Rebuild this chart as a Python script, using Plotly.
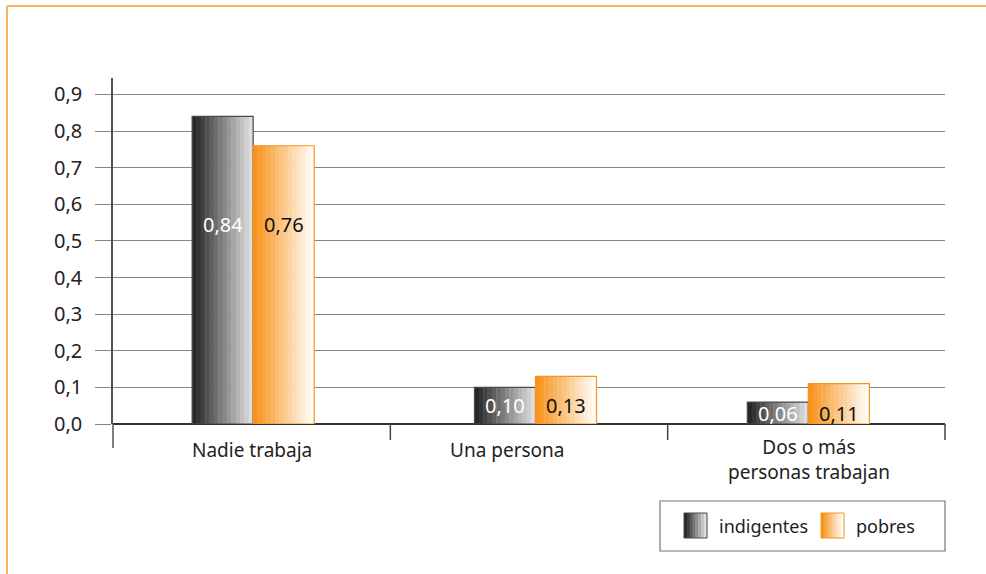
import plotly.graph_objects as go

# ---------------- data ----------------
categories = ["Nadie trabaja", "Una persona", "Dos o más<br>personas trabajan"]
indigentes = [0.84, 0.10, 0.06]
pobres = [0.76, 0.13, 0.11]
series_names = ["indigentes", "pobres"]
y_ticks = [0.0, 0.1, 0.2, 0.3, 0.4, 0.5, 0.6, 0.7, 0.8, 0.9]

# ---------------- style ----------------
W, H = 986, 574
L, R, T, B = 113, 41, 78, 150
PW, PH = W - L - R, H - T - B
CAT_PX = PW / 3
FONT = "Noto Sans"
TXT = "#222222"
GRID = "#858585"
ORANGE = "#f7941d"
FRAME = "#fab364"
BAR_W = 0.22
BAR_NUDGE_PX = [1.5, 6.5, 2.0]      # small per-group horizontal nudges (pixels)
LABEL_NUDGE_PX = [0, -22, 3]        # category label nudges (pixels)
NSTRIP = 14


def px_x(p):
    return (p - L) / PW


def px_y(p):
    return (H - B - p) / PH


def lerp(c1, c2, t):
    return "rgb(%d,%d,%d)" % tuple(round(a + (b - a) * t) for a, b in zip(c1, c2))


grad = {
    "indigentes": ((38, 38, 38), (222, 222, 224)),
    "pobres": ((247, 148, 29), (255, 252, 246)),
}
outline = {"indigentes": "#4a4a4a", "pobres": ORANGE}
label_col = {"indigentes": "#ffffff", "pobres": "#111111"}

nudge = [p / CAT_PX for p in BAR_NUDGE_PX]

fig = go.Figure()
step = BAR_W / NSTRIP
for si, (name, vals) in enumerate(zip(series_names, [indigentes, pobres])):
    base = [-BAR_W + si * BAR_W + n for n in nudge]
    c1, c2 = grad[name]
    for k in range(NSTRIP):
        t = k / (NSTRIP - 1)
        fig.add_trace(go.Bar(
            x=categories, y=vals, width=step * 1.08, offset=[b + k * step for b in base],
            marker=dict(color=lerp(c1, c2, t), line=dict(width=0)),
            showlegend=False, hoverinfo="skip"))
    fig.add_trace(go.Bar(
        x=categories, y=vals, width=BAR_W, offset=base, name=name,
        marker=dict(color="rgba(0,0,0,0)", line=dict(color=outline[name], width=1.2)),
        showlegend=False))

# value labels
for ci, cat in enumerate(categories):
    level = 0.545 if max(indigentes[ci], pobres[ci]) > 0.5 else indigentes[ci] / 2
    for si, (name, vals) in enumerate(zip(series_names, [indigentes, pobres])):
        fig.add_annotation(
            x=ci, y=level, xref="x", yref="y",
            text=("%.2f" % vals[ci]).replace(".", ","),
            xshift=(-BAR_W / 2 + si * BAR_W + nudge[ci]) * CAT_PX,
            showarrow=False, font=dict(family=FONT, size=20, color=label_col[name]))

# category labels
for ci, cat in enumerate(categories):
    nlines = cat.count("<br>") + 1
    fig.add_annotation(
        x=ci, y=px_y(450 + (nlines - 1) * 9), xref="x", yref="paper", yanchor="middle",
        xshift=LABEL_NUDGE_PX[ci],
        text=cat, showarrow=False,
        font=dict(family=FONT, size=19, color=TXT))

shapes = []
# orange frame
shapes.append(dict(type="line", xref="paper", yref="paper",
                   x0=px_x(7), x1=px_x(986), y0=px_y(6), y1=px_y(6),
                   line=dict(color=FRAME, width=2)))
shapes.append(dict(type="line", xref="paper", yref="paper",
                   x0=px_x(7), x1=px_x(7), y0=px_y(6), y1=px_y(574),
                   line=dict(color=FRAME, width=2)))
# y axis extension below zero
shapes.append(dict(type="line", xref="paper", yref="paper",
                   x0=0, x1=0, y0=0, y1=px_y(448),
                   line=dict(color="#555555", width=1.5)))
# category separators
for k in range(1, len(categories) + 1):
    shapes.append(dict(type="line", xref="paper", yref="paper",
                       x0=k / len(categories), x1=k / len(categories),
                       y0=0, y1=px_y(440),
                       line=dict(color="#444444", width=1.5)))
# legend box
shapes.append(dict(type="rect", xref="paper", yref="paper",
                   x0=px_x(660), x1=px_x(945), y0=px_y(551), y1=px_y(501),
                   line=dict(color="#777777", width=1.2), fillcolor="white"))
leg_pos = {"indigentes": (684, 717), "pobres": (821, 854)}
for name in series_names:
    sx, tx = leg_pos[name]
    c1, c2 = grad[name]
    n = 8
    sw = 23 / n
    for k in range(n):
        shapes.append(dict(type="rect", xref="paper", yref="paper",
                           x0=px_x(sx + k * sw), x1=px_x(sx + (k + 1) * sw + 0.3),
                           y0=px_y(538), y1=px_y(513),
                           line=dict(width=0), fillcolor=lerp(c1, c2, k / (n - 1))))
    shapes.append(dict(type="rect", xref="paper", yref="paper",
                       x0=px_x(sx), x1=px_x(sx + 23), y0=px_y(538), y1=px_y(513),
                       line=dict(color=outline[name], width=1)))
    fig.add_annotation(x=px_x(tx), y=px_y(526), xref="paper", yref="paper",
                       xanchor="left", yanchor="middle", text=name, showarrow=False,
                       font=dict(family=FONT, size=18, color=TXT))

fig.update_layout(
    width=W, height=H,
    margin=dict(l=L, r=R, t=T, b=B, autoexpand=False),
    paper_bgcolor="white", plot_bgcolor="white",
    separators=",.",
    barmode="overlay",
    shapes=shapes,
    showlegend=False,
    font=dict(family=FONT, size=19, color=TXT),
    xaxis=dict(type="category", range=[-0.5, 2.5], showticklabels=False,
               showgrid=False, zeroline=False, showline=False, ticks=""),
    yaxis=dict(range=[0, 0.945], tickvals=y_ticks, tickformat=".1f",
               showgrid=True, gridcolor=GRID, gridwidth=1,
               ticks="outside", ticklen=16, tickcolor=GRID, tickwidth=1,
               ticklabelstandoff=9,
               zeroline=True, zerolinecolor="#333333", zerolinewidth=1.5,
               showline=True, linecolor="#555555", linewidth=1.5,
               tickfont=dict(family=FONT, size=20, color=TXT)),
)

fig.write_html("out.html",
               config={"displayModeBar": False},
               post_script="document.body.style.margin='0';document.body.style.overflow='hidden';")
